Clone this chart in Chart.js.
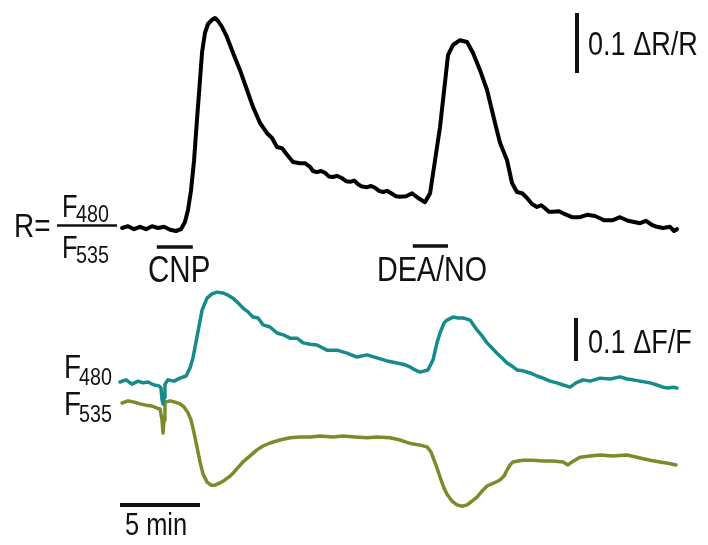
<!DOCTYPE html>
<html>
<head>
<meta charset="utf-8">
<script src="https://cdn.jsdelivr.net/npm/chart.js@4/dist/chart.umd.min.js"></script>
<style>
  body { margin: 0; background: #fff; }
  canvas { display: block; }
</style>
</head>
<body>
<canvas id="traceChart" width="708" height="545"></canvas>
<script>
// time in minutes, ratio in dR/R (baseline = 0)
var timeR = [0.13,0.50,0.88,1.25,1.63,2.00,2.38,2.75,3.13,3.50,3.81,4.06,4.25,4.44,4.63,4.81,5.00,5.13,5.31,5.50,5.75,5.94,6.13,6.38,6.69,7.06,7.50,7.94,8.31,8.75,9.19,9.50,9.81,10.13,10.44,10.81,11.25,11.56,11.88,12.06,12.31,12.56,12.81,13.06,13.31,13.56,13.88,14.13,14.38,14.63,14.88,15.13,15.44,15.69,15.94,16.19,16.44,16.69,17.00,17.25,17.50,17.88,18.25,18.63,19.06,19.38,19.69,20.00,20.31,20.50,20.81,21.25,21.69,22.06,22.50,22.94,23.44,23.75,24.19,24.50,24.81,25.13,25.44,25.75,26.06,26.31,26.56,26.81,27.06,27.44,27.81,28.25,28.75,29.19,29.69,30.25,30.81,31.25,31.75,32.13,32.50,32.88,33.25,33.56,33.94,34.38,34.63,34.81];
var ratio = [0.000,0.003,-0.002,0.002,-0.002,0.003,0.000,0.002,-0.003,-0.005,-0.002,0.010,0.030,0.063,0.113,0.180,0.247,0.293,0.325,0.340,0.347,0.350,0.345,0.335,0.318,0.292,0.263,0.230,0.202,0.175,0.158,0.150,0.135,0.133,0.122,0.110,0.108,0.108,0.102,0.095,0.093,0.095,0.092,0.086,0.085,0.087,0.083,0.078,0.077,0.079,0.073,0.069,0.068,0.070,0.067,0.062,0.060,0.062,0.057,0.053,0.052,0.053,0.058,0.050,0.043,0.058,0.113,0.168,0.242,0.288,0.305,0.313,0.310,0.292,0.263,0.230,0.175,0.142,0.113,0.075,0.060,0.058,0.050,0.040,0.035,0.038,0.033,0.027,0.027,0.028,0.023,0.018,0.018,0.022,0.020,0.013,0.013,0.018,0.012,0.010,0.008,0.012,0.005,0.002,0.000,0.002,-0.005,-0.002];

// F480 in dF/F
var time480 = [0.00,0.38,0.75,1.13,1.44,1.75,2.13,2.44,2.56,2.63,2.69,2.75,2.81,3.00,3.38,3.75,4.13,4.38,4.56,4.81,5.13,5.44,5.75,6.06,6.44,6.75,7.06,7.38,7.69,8.00,8.31,8.63,8.94,9.38,9.81,10.25,10.63,11.06,11.44,11.88,12.31,12.94,13.56,14.19,14.81,15.44,16.06,16.69,17.31,17.81,18.13,18.44,18.75,19.25,19.56,19.81,20.00,20.25,20.44,20.81,21.13,21.44,21.88,22.31,22.63,22.94,23.25,23.56,23.88,24.19,24.50,24.81,25.19,25.63,26.06,26.44,26.88,27.31,27.69,28.13,28.50,28.94,29.38,30.00,30.63,31.25,31.69,32.06,32.50,33.13,33.56,33.94,34.25,34.56,34.81];
var f480 = [0.000,0.005,-0.005,0.002,-0.002,0.000,-0.007,-0.009,-0.014,-0.042,-0.051,-0.037,-0.005,0.005,0.002,0.009,0.014,0.033,0.056,0.105,0.167,0.195,0.205,0.209,0.207,0.202,0.195,0.184,0.172,0.163,0.151,0.149,0.133,0.128,0.114,0.109,0.102,0.102,0.091,0.088,0.086,0.074,0.074,0.067,0.058,0.063,0.056,0.049,0.044,0.040,0.035,0.028,0.023,0.028,0.051,0.091,0.114,0.137,0.144,0.151,0.149,0.149,0.144,0.121,0.107,0.091,0.079,0.067,0.056,0.044,0.037,0.028,0.026,0.021,0.014,0.009,0.002,-0.002,-0.007,-0.012,-0.002,0.005,0.002,0.009,0.007,0.012,0.007,0.005,0.002,-0.002,-0.007,-0.012,-0.014,-0.012,-0.014];

// F535 in dF/F
var time535 = [0.13,0.50,0.88,1.25,1.63,2.00,2.31,2.50,2.63,2.69,2.75,2.81,3.13,3.44,3.75,4.00,4.25,4.44,4.63,4.81,5.00,5.19,5.44,5.69,5.94,6.25,6.56,6.88,7.19,7.69,8.13,8.56,8.94,9.38,10.00,10.63,11.25,11.88,12.50,13.31,13.94,14.69,15.44,16.06,16.88,17.50,17.88,18.25,18.75,19.19,19.44,19.63,19.81,20.00,20.25,20.44,20.75,21.06,21.38,21.69,22.00,22.31,22.63,22.94,23.38,23.75,24.00,24.19,24.38,24.56,24.88,25.19,25.81,26.44,27.06,27.69,28.00,28.25,28.75,29.38,30.00,30.81,31.69,32.50,33.13,33.75,34.25,34.75];
var f535 = [0.000,0.005,0.002,-0.002,-0.005,-0.007,-0.012,-0.014,-0.040,-0.070,-0.040,0.002,0.005,0.002,-0.002,-0.009,-0.023,-0.040,-0.070,-0.102,-0.137,-0.165,-0.184,-0.191,-0.191,-0.186,-0.179,-0.170,-0.158,-0.137,-0.123,-0.109,-0.100,-0.093,-0.086,-0.081,-0.079,-0.079,-0.077,-0.079,-0.077,-0.079,-0.081,-0.079,-0.081,-0.086,-0.091,-0.095,-0.098,-0.102,-0.114,-0.133,-0.151,-0.172,-0.198,-0.212,-0.228,-0.237,-0.240,-0.237,-0.228,-0.219,-0.205,-0.193,-0.186,-0.179,-0.170,-0.156,-0.144,-0.137,-0.135,-0.133,-0.133,-0.135,-0.135,-0.137,-0.144,-0.137,-0.126,-0.123,-0.121,-0.123,-0.121,-0.128,-0.133,-0.137,-0.140,-0.144];

// stimulus bars (minutes)
var cnpBar = [2.3, 4.55];
var deaBar = [18.3, 20.5];
var timeBar = 5;      // minutes
var ratioBar = 0.1;   // dR/R
var fluoBar = 0.1;    // dF/F

var W = 708, H = 545;
var pxPerMin = 16, x0 = 120;
var ratioPx = 600, ratioBase = 228;
var fluoPx = 430, base480 = 382, base535 = 403;

function pts(t, v) {
	var out = [];
	for (var i = 0; i < t.length; i++) out.push({x: t[i], y: v[i]});
	return out;
}

var FONT = '"Liberation Sans", Arial, sans-serif';

// condensed text (the figure uses a narrow sans)
function narrow(ctx, txt, x, y, size) {
	ctx.save();
	ctx.translate(x, y);
	ctx.scale(0.82, 1);
	ctx.font = size + 'px ' + FONT;
	ctx.fillText(txt, 0, 0);
	ctx.restore();
}

var labelsPlugin = {
	id: 'labels',
	afterDraw: function(chart) {
		var ctx = chart.ctx;
		var sx = chart.scales.x, sr = chart.scales.yR, sa = chart.scales.yA;
		ctx.save();
		ctx.fillStyle = '#111';
		ctx.strokeStyle = '#111';
		ctx.textBaseline = 'alphabetic';
		ctx.textAlign = 'left';

		// R = F480 / F535
		narrow(ctx, 'R=', 14, 237, 34);
		narrow(ctx, 'F', 62, 217, 31);
		narrow(ctx, '480', 76, 222, 24);
		narrow(ctx, 'F', 62, 258, 31);
		narrow(ctx, '535', 76, 263, 24);
		ctx.lineWidth = 2.5;
		ctx.beginPath(); ctx.moveTo(57, 225.5); ctx.lineTo(117, 225.5); ctx.stroke();

		// lower trace labels
		narrow(ctx, 'F', 64, 378, 34);
		narrow(ctx, '480', 79, 385, 24);
		narrow(ctx, 'F', 64, 415, 34);
		narrow(ctx, '535', 79, 422, 24);

		// stimulus labels + bars
		narrow(ctx, 'CNP', 148, 282, 36);
		narrow(ctx, 'DEA/NO', 377, 281, 35);
		ctx.lineWidth = 3.5;
		ctx.beginPath();
		ctx.moveTo(sx.getPixelForValue(cnpBar[0]), 247); ctx.lineTo(sx.getPixelForValue(cnpBar[1]), 247);
		ctx.moveTo(sx.getPixelForValue(deaBar[0]), 246); ctx.lineTo(sx.getPixelForValue(deaBar[1]), 246);
		ctx.stroke();

		// scale bars
		ctx.lineWidth = 4;
		ctx.beginPath();
		var rTop = 13;
		var rLen = sr.getPixelForValue(0) - sr.getPixelForValue(ratioBar);
		ctx.moveTo(577, rTop); ctx.lineTo(577, rTop + rLen);
		var fTop = 318;
		var fLen = sa.getPixelForValue(0) - sa.getPixelForValue(fluoBar);
		ctx.moveTo(576, fTop); ctx.lineTo(576, fTop + fLen);
		ctx.moveTo(sx.getPixelForValue(0), 505); ctx.lineTo(sx.getPixelForValue(timeBar), 505);
		ctx.stroke();

		narrow(ctx, '0.1 \u0394R/R', 588, 55, 33);
		narrow(ctx, '0.1 \u0394F/F', 588, 353, 33);
		narrow(ctx, '5 min', 125, 535, 31);
		ctx.restore();
	}
};

var chart = new Chart(document.getElementById('traceChart'), {
	type: 'line',
	data: {
		datasets: [
			{ label: 'R', data: pts(timeR, ratio), yAxisID: 'yR', borderColor: '#000000', borderWidth: 4 },
			{ label: 'F480', data: pts(time480, f480), yAxisID: 'yA', borderColor: '#178a8a', borderWidth: 3.5 },
			{ label: 'F535', data: pts(time535, f535), yAxisID: 'yB', borderColor: '#7c8a2a', borderWidth: 3.5 }
		]
	},
	options: {
		responsive: false,
		animation: false,
		layout: { padding: 0 },
		elements: { point: { radius: 0 }, line: { tension: 0, borderJoinStyle: 'round', borderCapStyle: 'round' } },
		plugins: { legend: { display: false }, tooltip: { enabled: false } },
		scales: {
			x: { type: 'linear', display: false, min: -x0 / pxPerMin, max: (W - x0) / pxPerMin },
			yR: { display: false, max: ratioBase / ratioPx, min: ratioBase / ratioPx - H / ratioPx },
			yA: { display: false, max: base480 / fluoPx, min: base480 / fluoPx - H / fluoPx },
			yB: { display: false, max: base535 / fluoPx, min: base535 / fluoPx - H / fluoPx }
		}
	},
	plugins: [labelsPlugin]
});
</script>
</body>
</html>
